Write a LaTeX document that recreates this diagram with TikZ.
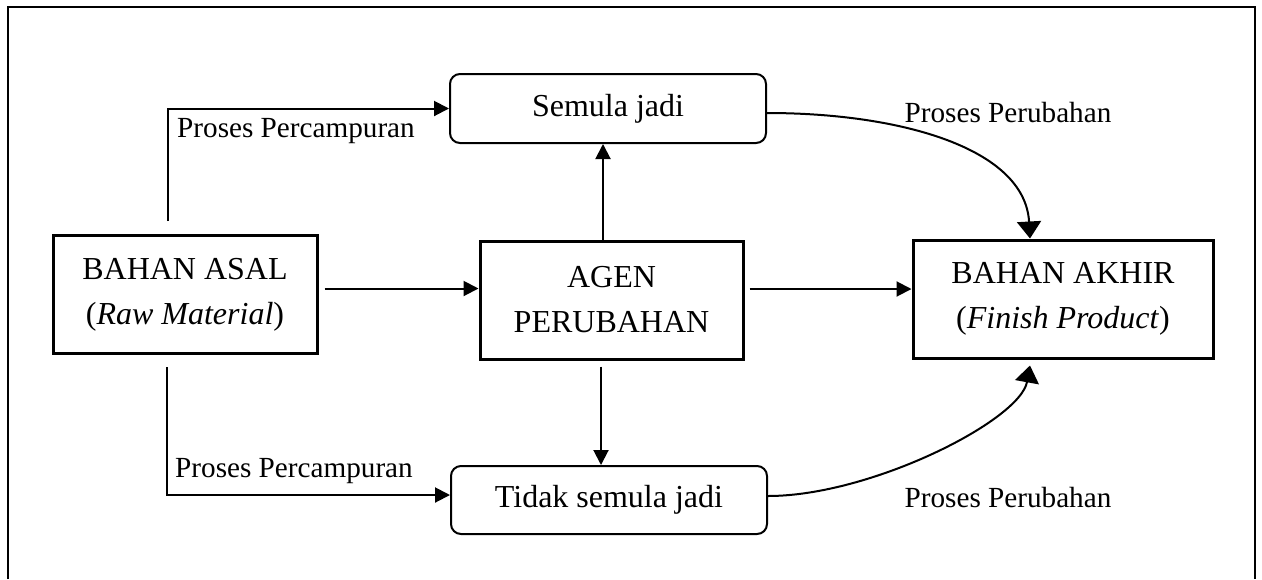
\documentclass[tikz,border=0pt]{standalone}
\usepackage{fontspec}
\setmainfont{Liberation Serif}
\usetikzlibrary{arrows.meta,calc}

\begin{document}
\begin{tikzpicture}[x=0.5pt,y=0.5pt,yscale=-1,
mainbox/.style={draw,line width=1.5pt,minimum height=59pt,inner sep=0pt,align=center,font=\fontsize{16}{22.5}\selectfont},
roundbox/.style={draw,line width=1pt,rounded corners=5pt,minimum height=34.5pt,minimum width=158pt,inner sep=0pt,font=\fontsize{16}{19}\selectfont},
lbl/.style={inner sep=0pt,font=\fontsize{14.6}{17}\selectfont},
arr/.style={line width=1pt,-{Triangle[length=7.5pt,width=7.5pt]}},
curvearr/.style={line width=1pt,-{Triangle[length=8.5pt,width=12pt]}}]
\useasboundingbox (0,0) rectangle (1262,579);
%Frame (open at the bottom)
\draw [line width=0.85pt]  (8,579) -- (8,7) -- (1255,7) -- (1255,579) ;

%Shape: Rectangle
\draw (185,294.5) node [mainbox,minimum width=132pt] (asal) {BAHAN ASAL\\(\textit{Raw Material})};
%Shape: Rectangle
\draw (611.5,300) node [mainbox,minimum width=131.5pt] (agen) {AGEN\\PERUBAHAN};
%Shape: Rectangle
\draw (1063,299) node [mainbox,minimum width=150pt] (akhir) {BAHAN AKHIR\\(\textit{Finish Product})};
%Rounded Rect
\draw (608,108.5) node [roundbox] (semula) {Semula jadi};
%Rounded Rect
\draw (609,500) node [roundbox,minimum height=34pt] (tidak) {Tidak semula jadi};

%Start points
\coordinate (mixup) at ($(asal.north)+(-17,-13)$);
\coordinate (mixdown) at ($(asal.south)+(-18,12)$);
\coordinate (agenup) at ($(agen.north)+(-8.5,0)$);
\coordinate (agendown) at ($(agen.south)+(-10.5,6)$);

%Straight Lines
\draw [arr]  (mixup) |- (semula.west) ;
%Straight Lines
\draw [arr]  (mixdown) |- ($(tidak.west)+(0,-5)$) ;
%Straight Lines
\draw [arr]  ($(asal.east)+(6,-6)$) -- ($(agen.west)+(0,-11.5)$) ;
%Straight Lines
\draw [arr]  ($(agen.east)+(5,-11)$) -- ($(akhir.west)+(0,-10)$) ;
%Straight Lines
\draw [arr]  (agenup) -- (agenup |- semula.south) ;
%Straight Lines
\draw [arr]  (agendown) -- (agendown |- tidak.north) ;
%Curve Lines
\draw [curvearr]  ($(semula.east)+(0,4.5)$) .. controls +(134,0) and +(-5,-90) .. ($(akhir.north)+(-33,0)$) ;
%Curve Lines
\draw [curvearr]  ($(tidak.east)+(0,-4)$) .. controls +(103,0) and +(-10,55) .. ($(akhir.south)+(-33,6)$) ;

% Text Node
\draw (296,131.5) node [lbl] (mixtoplbl) {Proses Percampuran};
% Text Node
\draw (294,471.5) node [lbl] (mixbotlbl) {Proses Percampuran};
% Text Node
\draw (1008,113) node [lbl] (chgtoplbl) {Proses Perubahan};
% Text Node
\draw (1008,497) node [lbl] (chgbotlbl) {Proses Perubahan};

\end{tikzpicture}
\end{document}
